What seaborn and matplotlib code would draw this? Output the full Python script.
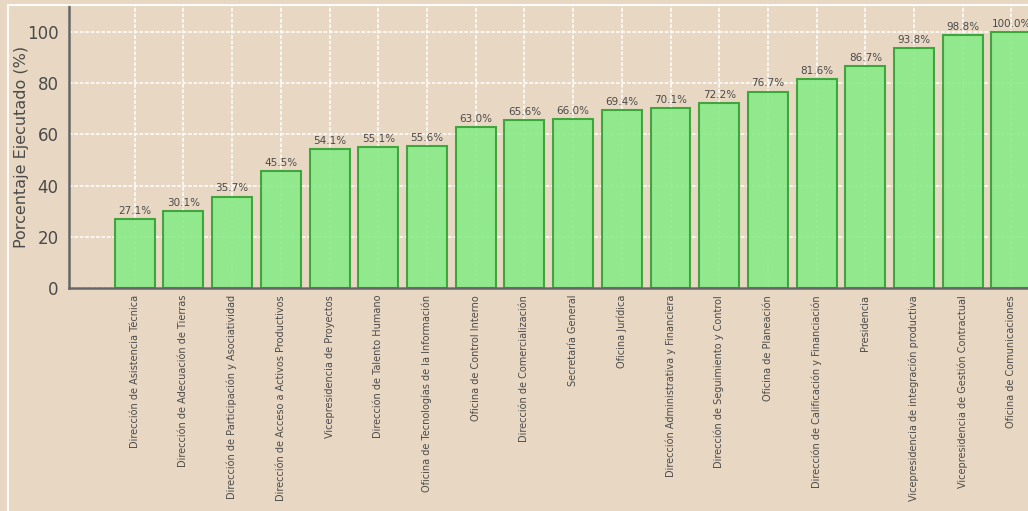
import matplotlib
matplotlib.use('Agg')
import matplotlib.pyplot as plt
import pandas as pd
import seaborn as sns
from matplotlib.patches import Rectangle

categorias = [
    'Dirección de Asistencia Técnica',
    'Dirección de Adecuación de Tierras',
    'Dirección de Participación y Asociatividad',
    'Dirección de Acceso a Activos Productivos',
    'Vicepresidencia de Proyectos',
    'Dirección de Talento Humano',
    'Oficina de Tecnologías de la Información',
    'Oficina de Control Interno',
    'Dirección de Comercialización',
    'Secretaría General',
    'Oficina Jurídica',
    'Dirección Administrativa y Financiera',
    'Dirección de Seguimiento y Control',
    'Oficina de Planeación',
    'Dirección de Calificación y Financiación',
    'Presidencia',
    'Vicepresidencia de integración productiva',
    'Vicepresidencia de Gestión Contractual',
    'Oficina de Comunicaciones',
]
porcentajes = [27.1, 30.1, 35.7, 45.5, 54.1, 55.1, 55.6, 63.0, 65.6, 66.0,
               69.4, 70.1, 72.2, 76.7, 81.6, 86.7, 93.8, 98.8, 100.0]
y_ticks = [0, 20, 40, 60, 80, 100]

fondo = '#e8d8c3'
texto = '#4a4a4a'

df = pd.DataFrame({'Dependencia': categorias, 'Porcentaje': porcentajes})

sns.set_style('white')
plt.rcParams['font.family'] = ['DejaVu Sans']

fig = plt.figure(figsize=(10.28, 5.11), dpi=100, facecolor=fondo)
ax = fig.add_axes([69 / 1028, 1 - 288 / 511, 1 - 69 / 1028, 283 / 511])
ax.set_facecolor(fondo)

sns.barplot(data=df, x='Dependencia', y='Porcentaje', ax=ax,
            color='#88ea88', edgecolor='#30a030', linewidth=1.5,
            width=0.82, alpha=0.9, saturation=1)

ax.set_xlim(-1.35, 18.34)
ax.set_ylim(0, 110.5)
ax.set_yticks(y_ticks)

# etiquetas de valor encima de cada barra
for i, v in enumerate(porcentajes):
    ax.text(i, v + 1.2, f'{v:.1f}%', ha='center', va='bottom',
            fontsize=7.5, color=texto, clip_on=False)

ax.set_xlabel('')
ax.set_ylabel('Porcentaje Ejecutado (%)', fontsize=11.5, color=texto,
              va='center')
ax.yaxis.set_label_coords(-0.05, 0.5)
ax.tick_params(axis='y', labelsize=12, colors=texto, length=4, width=1.2)
ax.tick_params(axis='x', labelsize=7, colors=texto, length=3, width=0.8,
               labelrotation=90, pad=2)
for lbl in ax.get_xticklabels():
    lbl.set_verticalalignment('top')

ax.grid(True, color='white', linestyle=(0, (2, 1)), linewidth=1.3, alpha=0.9)
ax.set_axisbelow(True)

for s in ['top', 'right']:
    ax.spines[s].set_visible(False)
for s in ['left', 'bottom']:
    ax.spines[s].set_color('#666666')
    ax.spines[s].set_linewidth(1.8)

# marco claro de la figura
fig.patches.append(Rectangle((8 / 1028, -0.1), 1.2, 1 - 5 / 511 + 0.1,
                             transform=fig.transFigure, fill=False,
                             edgecolor='white', linewidth=1.5, alpha=0.9))

plt.savefig('out.png', dpi=100, facecolor=fondo)
